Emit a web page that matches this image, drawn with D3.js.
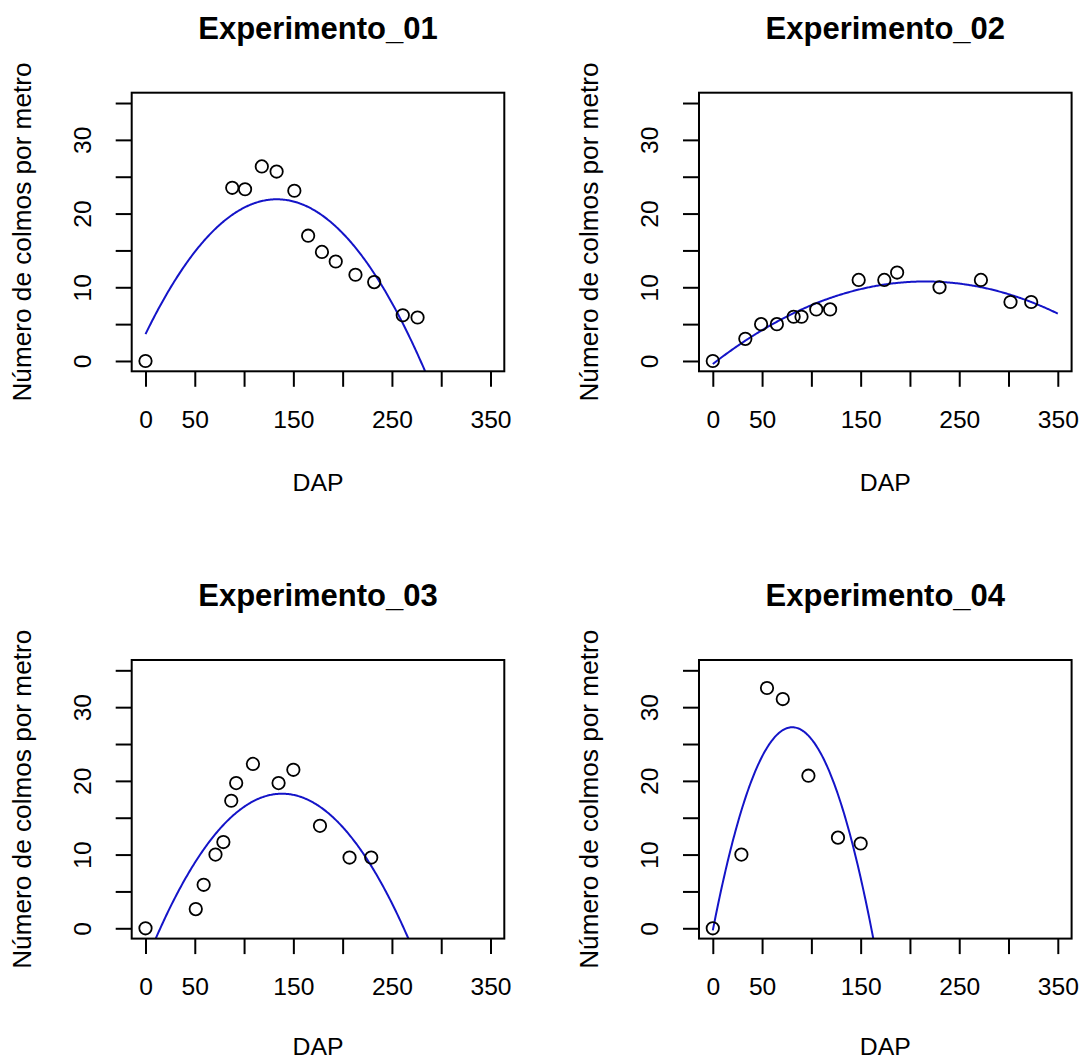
<!DOCTYPE html>
<html>
<head>
<meta charset="utf-8">
<title>Experimentos - colmos por metro</title>
<style>
	body { margin: 0; background: #fff; }
	svg text { font-family: "Liberation Sans", Arial, sans-serif; fill: #000; }
	.axis line { stroke: #000; stroke-width: 2px; }
	.axis text { font-size: 24.6px; }
	.title { font-size: 31px; font-weight: bold; }
	.lab { font-size: 24.8px; }
	.ylab { font-size: 26.2px; }
</style>
</head>
<body>
<div id="chart"></div>
<script src="https://cdn.jsdelivr.net/npm/d3@7"></script>
<script>

// values
var titles = ["Experimento_01", "Experimento_02", "Experimento_03", "Experimento_04"];

var dap01 = [0, 88, 101, 118, 133, 151, 165, 179, 193, 213, 232, 261, 276];
var colmos01 = [0, 23.5, 23.3, 26.4, 25.7, 23.1, 17.0, 14.8, 13.5, 11.7, 10.7, 6.2, 5.9];

var dap02 = [0, 33, 49, 65, 82, 90, 105, 119, 148, 174, 187, 230, 272, 302, 323];
var colmos02 = [0, 3, 5, 5, 6, 6, 7, 7, 11, 11, 12, 10, 11, 8, 8];

var dap03 = [0, 51, 59, 71, 79, 87, 92, 109, 135, 150, 177, 207, 229];
var colmos03 = [0, 2.6, 5.9, 10.0, 11.7, 17.3, 19.7, 22.3, 19.7, 21.5, 13.9, 9.6, 9.6];

var dap04 = [0, 29, 55, 71, 97, 127, 150];
var colmos04 = [0, 10.0, 32.6, 31.1, 20.7, 12.3, 11.5];

var xTicks = [0, 50, 100, 150, 200, 250, 300, 350];
var xTickLabels = [0, 50, 150, 250, 350];   // R drops the ones that would overlap
var yTicks = [0, 5, 10, 15, 20, 25, 30, 35];
var yTickLabels = [0, 10, 20, 30];

var panels = [
	{ title: titles[0], x: dap01, y: colmos01 },
	{ title: titles[1], x: dap02, y: colmos02 },
	{ title: titles[2], x: dap03, y: colmos03 },
	{ title: titles[3], x: dap04, y: colmos04 }
];

var width = 1081, height = 1061;
var boxLeft = 131.7, boxTop = 92.7, boxW = 372.6, boxH = 278.6;
var step = 567.3;   // distance between panel origins

var svg = d3.select("#chart").append("svg")
	.attr("width", width)
	.attr("height", height);

// lm(y ~ x + I(x^2)) done by hand: normal equations, gaussian elimination
function fitQuadratic(xs, ys) {
	var s = [0, 0, 0, 0, 0], t = [0, 0, 0];
	xs.forEach(function(x, i) {
		for (var k = 0; k < 5; k++) s[k] += Math.pow(x, k);
		for (var k = 0; k < 3; k++) t[k] += ys[i] * Math.pow(x, k);
	});
	var m = [
		[s[0], s[1], s[2], t[0]],
		[s[1], s[2], s[3], t[1]],
		[s[2], s[3], s[4], t[2]]
	];
	for (var c = 0; c < 3; c++) {
		for (var r = c + 1; r < 3; r++) {
			var f = m[r][c] / m[c][c];
			for (var k = c; k < 4; k++) m[r][k] -= f * m[c][k];
		}
	}
	var b = [0, 0, 0];
	for (var r = 2; r >= 0; r--) {
		var v = m[r][3];
		for (var k = r + 1; k < 3; k++) v -= m[r][k] * b[k];
		b[r] = v / m[r][r];
	}
	return b;
}

function drawPanel(p, i) {
	var ox = (i % 2) * step, oy = Math.floor(i / 2) * step;
	var g = svg.append("g").attr("transform", "translate(" + ox + "," + oy + ")");

	// R pads the limits by 4% on each side
	var x = d3.scaleLinear().domain([-14, 364]).range([boxLeft, boxLeft + boxW]);
	var y = d3.scaleLinear().domain([-1.4, 36.4]).range([boxTop + boxH, boxTop]);

	var clipId = "clip" + i;
	g.append("clipPath").attr("id", clipId)
		.append("rect")
		.attr("x", boxLeft).attr("y", boxTop)
		.attr("width", boxW).attr("height", boxH);

	// fitted curve
	var coef = fitQuadratic(p.x, p.y);
	var xs = d3.range(0, 350.5, 1);
	var line = d3.line()
		.x(function(d) { return x(d); })
		.y(function(d) { return y(coef[0] + coef[1] * d + coef[2] * d * d); });
	g.append("path")
		.datum(xs)
		.attr("clip-path", "url(#" + clipId + ")")
		.attr("d", line)
		.attr("fill", "none")
		.attr("stroke", "#1414c8")
		.attr("stroke-width", 2);

	// points
	g.selectAll("circle.pt")
		.data(p.x.map(function(d, k) { return [d, p.y[k]]; }))
		.enter().append("circle")
		.attr("class", "pt")
		.attr("cx", function(d) { return x(d[0]); })
		.attr("cy", function(d) { return y(d[1]); })
		.attr("r", 6.2)
		.attr("fill", "none")
		.attr("stroke", "#000")
		.attr("stroke-width", 1.8);

	// x axis
	var xAxis = g.append("g")
		.attr("class", "axis")
		.attr("transform", "translate(0," + (boxTop + boxH) + ")")
		.call(d3.axisBottom(x)
			.tickValues(xTicks)
			.tickSize(15.5)
			.tickPadding(23.8)
			.tickFormat(function(d) { return xTickLabels.indexOf(d) >= 0 ? d : ""; }));
	xAxis.select(".domain").remove();

	// y axis, labels parallel to the axis like R's las = 0
	var yAxis = g.append("g")
		.attr("class", "axis")
		.attr("transform", "translate(" + boxLeft + ",0)")
		.call(d3.axisLeft(y)
			.tickValues(yTicks)
			.tickSize(16)
			.tickFormat(function(d) { return yTickLabels.indexOf(d) >= 0 ? d : ""; }));
	yAxis.select(".domain").remove();
	yAxis.selectAll("text")
		.attr("transform", "rotate(-90)")
		.attr("x", 0)
		.attr("y", -41)
		.attr("dy", 0)
		.attr("text-anchor", "middle");

	// box
	g.append("rect")
		.attr("x", boxLeft).attr("y", boxTop)
		.attr("width", boxW).attr("height", boxH)
		.attr("fill", "none")
		.attr("stroke", "#000")
		.attr("stroke-width", 2);

	var cx = boxLeft + boxW / 2, cy = boxTop + boxH / 2;

	g.append("text")
		.attr("class", "title")
		.attr("x", cx).attr("y", 39)
		.attr("text-anchor", "middle")
		.text(p.title);

	// bottom row sits right on the page edge, keep it inside
	g.append("text")
		.attr("class", "lab")
		.attr("x", cx).attr("y", i < 2 ? 490.7 : 488)
		.attr("text-anchor", "middle")
		.text("DAP");

	g.append("text")
		.attr("class", "ylab")
		.attr("transform", "translate(30.7," + cy + ") rotate(-90)")
		.attr("text-anchor", "middle")
		.text("Número de colmos por metro");
}

panels.forEach(drawPanel);

</script>
</body>
</html>
